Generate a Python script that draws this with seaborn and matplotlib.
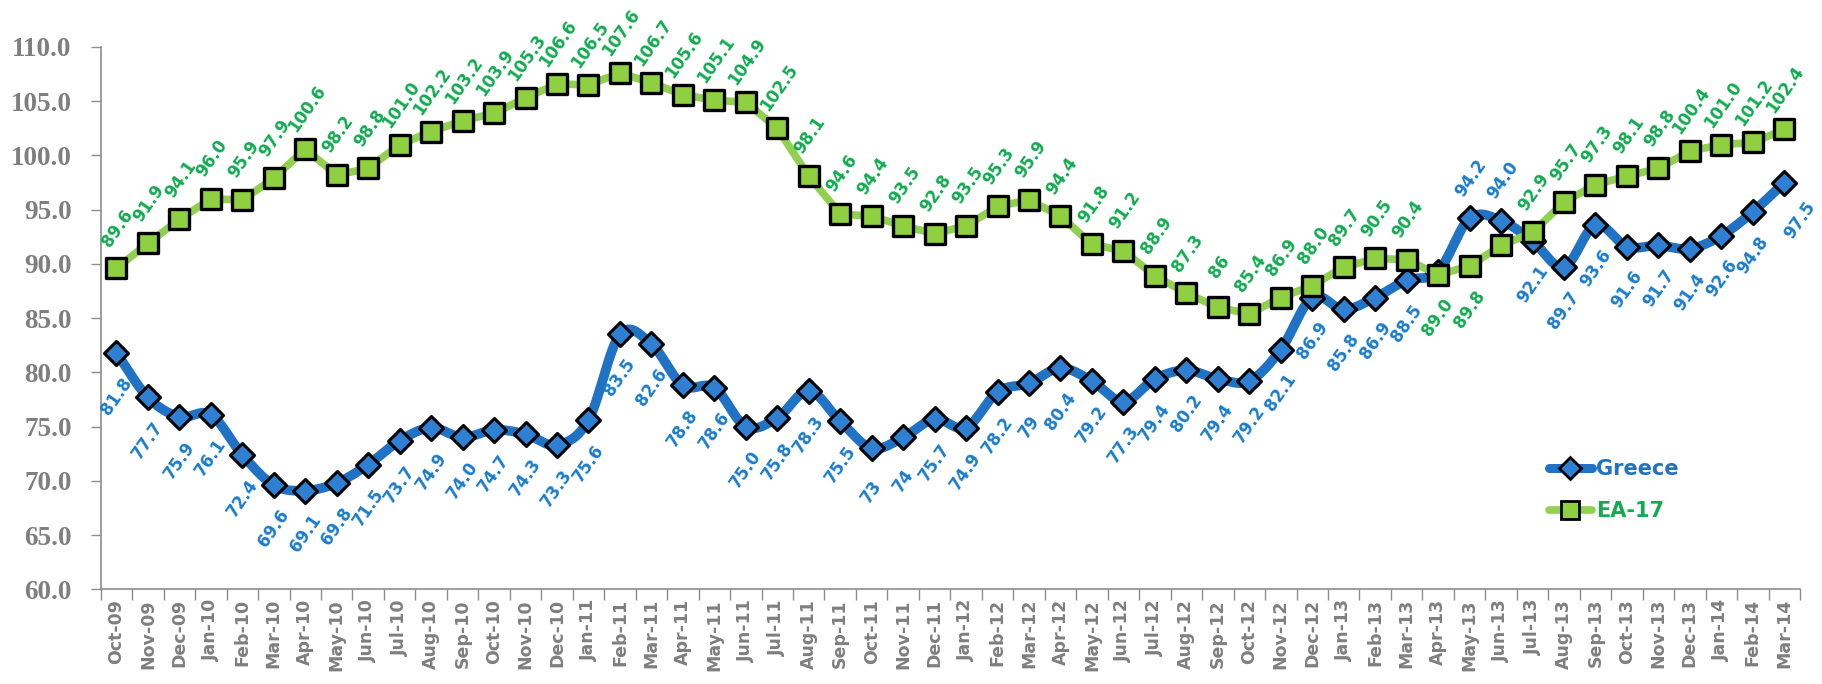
import numpy as np
import pandas as pd
import matplotlib
matplotlib.use("Agg")
import matplotlib.pyplot as plt
from matplotlib.lines import Line2D
import seaborn as sns

# ---- data -------------------------------------------------------------
months = ["Oct-09", "Nov-09", "Dec-09",
          "Jan-10", "Feb-10", "Mar-10", "Apr-10", "May-10", "Jun-10",
          "Jul-10", "Aug-10", "Sep-10", "Oct-10", "Nov-10", "Dec-10",
          "Jan-11", "Feb-11", "Mar-11", "Apr-11", "May-11", "Jun-11",
          "Jul-11", "Aug-11", "Sep-11", "Oct-11", "Nov-11", "Dec-11",
          "Jan-12", "Feb-12", "Mar-12", "Apr-12", "May-12", "Jun-12",
          "Jul-12", "Aug-12", "Sep-12", "Oct-12", "Nov-12", "Dec-12",
          "Jan-13", "Feb-13", "Mar-13", "Apr-13", "May-13", "Jun-13",
          "Jul-13", "Aug-13", "Sep-13", "Oct-13", "Nov-13", "Dec-13",
          "Jan-14", "Feb-14", "Mar-14"]

greece_text = ["81.8", "77.7", "75.9", "76.1", "72.4", "69.6", "69.1", "69.8",
               "71.5", "73.7", "74.9", "74.0", "74.7", "74.3", "73.3", "75.6",
               "83.5", "82.6", "78.8", "78.6", "75.0", "75.8", "78.3", "75.5",
               "73", "74", "75.7", "74.9", "78.2", "79", "80.4", "79.2",
               "77.3", "79.4", "80.2", "79.4", "79.2", "82.1", "86.9", "85.8",
               "86.9", "88.5", "89.3", "94.2", "94.0", "92.1", "89.7", "93.6",
               "91.6", "91.7", "91.4", "92.6", "94.8", "97.5"]

ea17_text = ["89.6", "91.9", "94.1", "96.0", "95.9", "97.9", "100.6", "98.2",
             "98.8", "101.0", "102.2", "103.2", "103.9", "105.3", "106.6", "106.5",
             "107.6", "106.7", "105.6", "105.1", "104.9", "102.5", "98.1", "94.6",
             "94.4", "93.5", "92.8", "93.5", "95.3", "95.9", "94.4", "91.8",
             "91.2", "88.9", "87.3", "86", "85.4", "86.9", "88.0", "89.7",
             "90.5", "90.4", "89.0", "89.8", "91.7", "92.9", "95.7", "97.3",
             "98.1", "98.8", "100.4", "101.0", "101.2", "102.4"]

greece = [float(v) for v in greece_text]
ea17 = [float(v) for v in ea17_text]

# where each value label sits relative to its marker
greece_pos = ["below"] * len(months)
greece_pos[42] = None
greece_pos[43] = "above"
greece_pos[44] = "above"
greece_pos[53] = "belowright"

ea17_pos = ["above"] * len(months)
ea17_pos[42] = "below"
ea17_pos[43] = "below"
ea17_pos[44] = None

# ---- styling ------------------------------------------------------------
BLUE_LINE = "#1f72c4"
BLUE_FACE = "#2f80d2"
BLUE_TEXT = "#1a7ccc"
GREEN_LINE = "#92d050"
GREEN_FACE = "#8fd040"
GREEN_TEXT = "#12ab50"
AXIS_GREY = "#8c8c8c"
TEXT_GREY = "#7f7f7f"

sns.set_style("white")
plt.rcParams["font.family"] = ["DejaVu Sans"]

W, H = 1822, 684
fig = plt.figure(figsize=(W / 100, H / 100), dpi=100)
ax = fig.add_axes([100.7 / W, 94.7 / H, 1699.3 / W, 542.3 / H])

x = np.arange(len(months))
df = pd.DataFrame({"x": x, "month": months, "Greece": greece, "EA-17": ea17})


def catmull_rom(xs, ys, n=16):
    """Smooth path through the points (drawing only)."""
    xs = np.asarray(xs, float)
    ys = np.asarray(ys, float)
    px = np.concatenate([[2 * xs[0] - xs[1]], xs, [2 * xs[-1] - xs[-2]]])
    py = np.concatenate([[2 * ys[0] - ys[1]], ys, [2 * ys[-1] - ys[-2]]])
    t = np.linspace(0, 1, n, endpoint=False)
    outx, outy = [], []
    for i in range(1, len(px) - 2):
        for p, out in ((px, outx), (py, outy)):
            p0, p1, p2, p3 = p[i - 1], p[i], p[i + 1], p[i + 2]
            seg = 0.5 * ((2 * p1) + (-p0 + p2) * t
                         + (2 * p0 - 5 * p1 + 4 * p2 - p3) * t ** 2
                         + (-p0 + 3 * p1 - 3 * p2 + p3) * t ** 3)
            out.extend(seg)
    outx.append(xs[-1])
    outy.append(ys[-1])
    return np.array(outx), np.array(outy)


sx, sy = catmull_rom(df["x"], df["Greece"])
smooth = pd.DataFrame({"x": sx, "y": sy})

# Greece: smoothed blue line with diamond markers
sns.lineplot(data=smooth, x="x", y="y", ax=ax, color=BLUE_LINE, linewidth=7,
             sort=False, estimator=None, zorder=2)
sns.scatterplot(data=df, x="x", y="Greece", ax=ax, marker="D", s=150,
                color=BLUE_FACE, edgecolor="black", linewidth=2.2, zorder=3)

# EA-17: straight green line with square markers
sns.lineplot(data=df, x="x", y="EA-17", ax=ax, color=GREEN_LINE, linewidth=5.5,
             sort=False, estimator=None, zorder=4)
sns.scatterplot(data=df, x="x", y="EA-17", ax=ax, marker="s", s=210,
                color=GREEN_FACE, edgecolor="black", linewidth=2.4, zorder=5)

# value labels
offsets = {
    "above": (1, 29),
    "below": (0, -31),
    "belowright": (11, -27),
}


def label_series(values, texts, positions, color):
    for xi, (v, t, p) in enumerate(zip(values, texts, positions)):
        if p is None:
            continue
        ax.annotate(t, (xi, v), xytext=offsets[p], textcoords="offset points",
                    ha="center", va="center", rotation=55,
                    rotation_mode="anchor", color=color, fontsize=12,
                    fontweight="bold", zorder=6, annotation_clip=False)


label_series(greece, greece_text, greece_pos, BLUE_TEXT)
label_series(ea17, ea17_text, ea17_pos, GREEN_TEXT)

# ---- axes ---------------------------------------------------------------
ax.set_xlim(-0.5, len(months) - 0.5)
ax.set_ylim(60, 110)
ax.set_xlabel("")
ax.set_ylabel("")

ax.set_xticks(x)
ax.set_xticklabels(months, rotation=90, fontsize=12.5, fontweight="bold",
                   color=TEXT_GREY)
ax.set_xticks(np.arange(-0.5, len(months), 1), minor=True)
ax.tick_params(axis="x", which="major", length=0, pad=7)
ax.tick_params(axis="x", which="minor", length=8, width=1, color=AXIS_GREY,
               direction="out", bottom=True)

yt = np.arange(60, 110.1, 5)
ax.set_yticks(yt)
ax.set_yticklabels([f"{v:.1f}" for v in yt], fontsize=19.5, fontweight="bold",
                   color=TEXT_GREY, family="Liberation Serif")
ax.tick_params(axis="y", length=7, width=1, color=AXIS_GREY, direction="out",
               left=True, pad=14)

for side in ("top", "right"):
    ax.spines[side].set_visible(False)
for side in ("left", "bottom"):
    ax.spines[side].set_color(AXIS_GREY)
    ax.spines[side].set_linewidth(1.2)

# legend
handles = [
    Line2D([], [], color=BLUE_LINE, lw=6.5, marker="D", markersize=11,
           markerfacecolor=BLUE_FACE, markeredgecolor="black",
           markeredgewidth=2),
    Line2D([], [], color=GREEN_LINE, lw=5.5, marker="s", markersize=13,
           markerfacecolor=GREEN_FACE, markeredgecolor="black",
           markeredgewidth=2),
]
leg = ax.legend(handles, ["Greece", "EA-17"], loc="upper left",
                bbox_to_anchor=(0.841, 0.275), frameon=False,
                handlelength=2.1, handletextpad=0.2, labelspacing=1.05,
                prop={"weight": "bold", "size": 15})
for txt, c in zip(leg.get_texts(), [BLUE_LINE, GREEN_TEXT]):
    txt.set_color(c)

fig.savefig("out.png", dpi=100, facecolor="white")
